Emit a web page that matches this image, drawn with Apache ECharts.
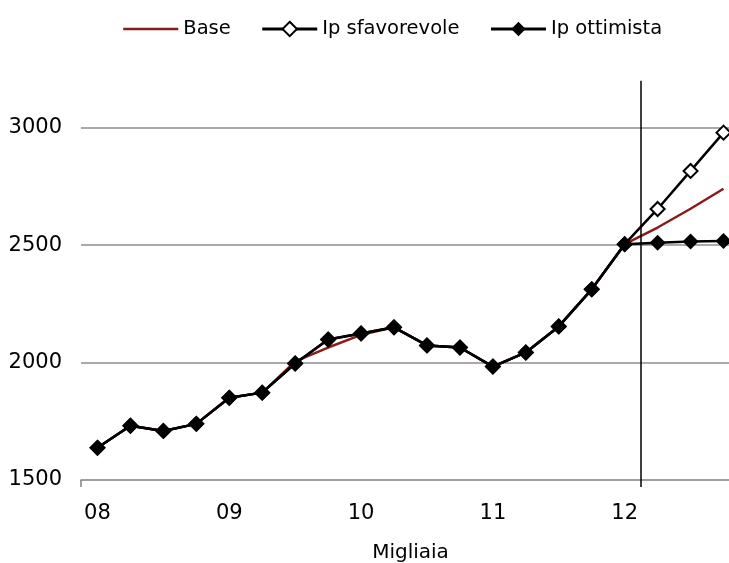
<!DOCTYPE html>
<html>
<head>
<meta charset="utf-8">
<script src="https://cdn.jsdelivr.net/npm/echarts@6/dist/echarts.min.js"></script>
<style>
	html, body { margin: 0; padding: 0; background: #fff; overflow: hidden; }
	#chart { width: 729px; height: 563px; }
</style>
</head>
<body>
<div id="chart"></div>
<script>
// trimestri 2008-2012
const quarters = ['08T1','08T2','08T3','08T4','09T1','09T2','09T3','09T4',
                  '10T1','10T2','10T3','10T4','11T1','11T2','11T3','11T4',
                  '12T1','12T2','12T3','12T4']
const base        = [1637,1731,1709,1739,1850,1872,2005,2064,2118,2150,2073,2064,1983,2043,2154,2312,2504,2575,2655,2740]
const sfavorevole = [1637,1731,1709,1739,1850,1872,1996,2098,2124,2150,2073,2064,1983,2043,2154,2312,2504,2654,2816,2979]
const ottimista   = [1637,1731,1709,1739,1850,1872,1996,2098,2124,2150,2073,2064,1983,2043,2154,2312,2504,2510,2515,2518]
const yTicks = [1500, 3250, 500]   // min, max, passo
const cutPos = 16.5                // linea verticale tra 12T1 e 12T2

const font = 'DejaVu Sans, Verdana, sans-serif'
let myChart = echarts.init(document.getElementById('chart'))
let option = {
    animation: false,
    backgroundColor: '#fff',
    textStyle: { fontFamily: font },
    legend: {
        left: 117,
        top: 14,
        itemWidth: 55,
        itemHeight: 18,
        itemGap: 30,
        textStyle: { fontFamily: font, fontSize: 19.5, color: '#000' },
        data: [
            { name: 'Base', itemStyle: { opacity: 0 }, lineStyle: { width: 2.5 } },
            { name: 'Ip sfavorevole', lineStyle: { width: 3 } },
            { name: 'Ip ottimista', lineStyle: { width: 3 } }
        ]
    },
    // il grafico esce un po' dal bordo destro come nell'originale
    grid: { left: 81, width: 659, top: 69, height: 411, outerBoundsMode: 'none', containLabel: false },
    xAxis: [
        {
            type: 'category',
            boundaryGap: true,
            data: quarters,
            axisLine: { lineStyle: { color: '#808080', width: 1.5 } },
            axisTick: {
                show: true,
                interval: function (idx) { return idx === 0 },
                length: 7,
                lineStyle: { color: '#808080', width: 1.5 }
            },
            axisLabel: {
                interval: 3,
                margin: 23,
                fontSize: 21,
                color: '#000',
                fontFamily: font,
                formatter: v => v.slice(0, 2)
            },
            name: 'Migliaia',
            nameLocation: 'middle',
            nameGap: 63,
            nameTextStyle: { fontSize: 20, color: '#000', fontFamily: font }
        },
        {
            // asse nascosto per posizionare la linea verticale
            type: 'value',
            min: -0.5,
            max: quarters.length - 0.5,
            axisLine: { show: false },
            axisTick: {
                show: true,
                inside: false,
                length: 7,
                customValues: [cutPos],
                lineStyle: { color: '#000', width: 1.5 }
            },
            axisLabel: { show: false },
            splitLine: { show: false },
            position: 'bottom'
        }
    ],
    yAxis: {
        type: 'value',
        min: yTicks[0],
        max: yTicks[1],
        interval: yTicks[2],
        axisLine: { show: false },
        axisTick: { show: false },
        axisLabel: {
            fontSize: 21, color: '#000', margin: 19, fontFamily: font, showMaxLabel: false,
            formatter: v => String(v)
        },
        splitLine: { showMinLine: false, showMaxLine: false, lineStyle: { color: '#8c8c8c', width: 1.5 } }
    },
    series: [
        {
            name: 'Base',
            type: 'line',
            data: base,
            symbol: 'none',
            lineStyle: { color: '#8b1a1a', width: 2.5 },
            itemStyle: { color: '#8b1a1a' },
            z: 2
        },
        {
            name: 'Ip sfavorevole',
            type: 'line',
            data: sfavorevole,
            symbol: 'diamond',
            symbolSize: 14,
            lineStyle: { color: '#000', width: 2.5 },
            itemStyle: { color: '#fff', borderColor: '#000', borderWidth: 2 },
            z: 3
        },
        {
            name: 'Ip ottimista',
            type: 'line',
            data: ottimista,
            symbol: 'diamond',
            symbolSize: 16,
            lineStyle: { color: '#000', width: 2.5 },
            itemStyle: { color: '#000' },
            z: 4
        },
        {
            type: 'line',
            xAxisIndex: 1,
            data: [],
            silent: true,
            markLine: {
                symbol: 'none',
                silent: true,
                label: { show: false },
                lineStyle: { color: '#000', width: 1.5, type: 'solid' },
                data: [[{ coord: [cutPos, 3200] }, { coord: [cutPos, yTicks[0]] }]]
            }
        }
    ]
}
myChart.setOption(option)
</script>
</body>
</html>
